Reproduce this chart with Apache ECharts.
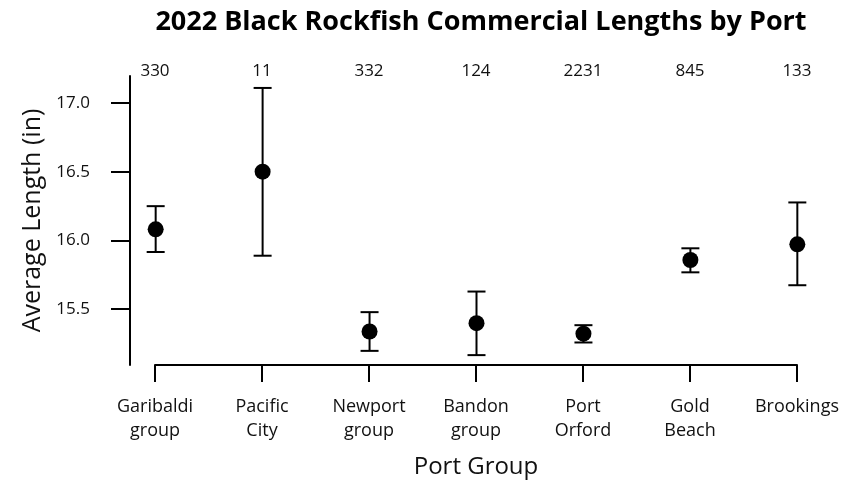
<!DOCTYPE html>
<html><head><meta charset="utf-8">
<script src="https://cdn.jsdelivr.net/npm/echarts@6/dist/echarts.min.js"></script>
<style>html,body{margin:0;padding:0;background:#fff}#c{width:842px;height:484px}</style>
</head><body><div id="c"></div>
<script>
var categories = ["Garibaldi\ngroup","Pacific\nCity","Newport\ngroup","Bandon\ngroup","Port\nOrford","Gold\nBeach","Brookings"];
var counts = ["330","11","332","124","2231","845","133"];
var means  = [16.08, 16.50, 15.336, 15.397, 15.32, 15.857, 15.971];
var lowers = [15.915, 15.888, 15.195, 15.164, 15.256, 15.767, 15.673];
var uppers = [16.249, 17.11, 15.477, 15.627, 15.382, 15.942, 16.276];
var yTicks = [15.5, 16.0, 16.5, 17.0];

var FONT = "'Open Sans', 'Noto Sans', sans-serif";
var errData = means.map(function(m,i){ return [i+1, m, lowers[i], uppers[i]]; });
var ptData = means.map(function(m,i){ return [i+1, m]; });

var chart = echarts.init(document.getElementById('c'), null, {renderer:'canvas'});
chart.setOption({
  animation:false,
  backgroundColor:'#fff',
  title:{text:'2022 Black Rockfish Commercial Lengths by Port', left:476, top:4, textAlign:'center',
    textStyle:{fontFamily:FONT, fontWeight:'bold', fontSize:27, color:'#000'}},
  grid:[
    {left:130, right:19, top:76, bottom:119},
    {left:155, right:45, top:76, bottom:118}
  ],
  xAxis:[
    {type:'value', gridIndex:0, min:0.76, max:7.24, show:false},
    {type:'category', gridIndex:1, boundaryGap:false, data:categories, position:'bottom',
      axisLine:{lineStyle:{color:'#000', width:2}},
      axisTick:{show:true, length:17, lineStyle:{color:'#000', width:2}, alignWithLabel:true},
      axisLabel:{margin:30, fontFamily:FONT, fontSize:18, lineHeight:24, color:'#111', interval:0, verticalAlign:'top'},
      name:'Port Group', nameLocation:'middle', nameGap:90,
      nameTextStyle:{fontFamily:FONT, fontSize:24, color:'#111'}},
    {type:'category', gridIndex:1, boundaryGap:false, data:counts, position:'top',
      axisLine:{show:false}, axisTick:{show:false},
      axisLabel:{margin:-4, fontFamily:FONT, fontSize:17, color:'#111', interval:0}}
  ],
  yAxis:[
    {type:'value', gridIndex:0, min:15.092, max:17.197, splitLine:{show:false},
      axisLine:{show:true, lineStyle:{color:'#000', width:2}},
      axisTick:{show:true, length:19, customValues:yTicks, lineStyle:{color:'#000', width:2}},
      axisLabel:{customValues:yTicks, margin:40, fontFamily:FONT, fontSize:17, color:'#111',
        formatter:function(v){return v.toFixed(1);}},
      name:'Average Length (in)', nameLocation:'middle', nameGap:82,
      nameTextStyle:{fontFamily:FONT, fontSize:25, color:'#111'}},
    {type:'value', gridIndex:1, show:false, min:0, max:1}
  ],
  series:[
    {type:'custom', xAxisIndex:0, yAxisIndex:0, data:errData, z:2,
      renderItem:function(params, api){
        var x = api.value(0);
        var lo = api.coord([x, api.value(2)]);
        var hi = api.coord([x, api.value(3)]);
        var w = 9;
        var st = {stroke:'#000', lineWidth:2, fill:null};
        return {type:'group', children:[
          {type:'line', shape:{x1:lo[0], y1:lo[1], x2:hi[0], y2:hi[1]}, style:st},
          {type:'line', shape:{x1:lo[0]-w, y1:lo[1], x2:lo[0]+w, y2:lo[1]}, style:st},
          {type:'line', shape:{x1:hi[0]-w, y1:hi[1], x2:hi[0]+w, y2:hi[1]}, style:st}
        ]};
      }},
    {type:'scatter', xAxisIndex:0, yAxisIndex:0, data:ptData, symbol:'circle', symbolSize:16,
      itemStyle:{color:'#000', opacity:1}, z:3}
  ]
});
</script></body></html>
